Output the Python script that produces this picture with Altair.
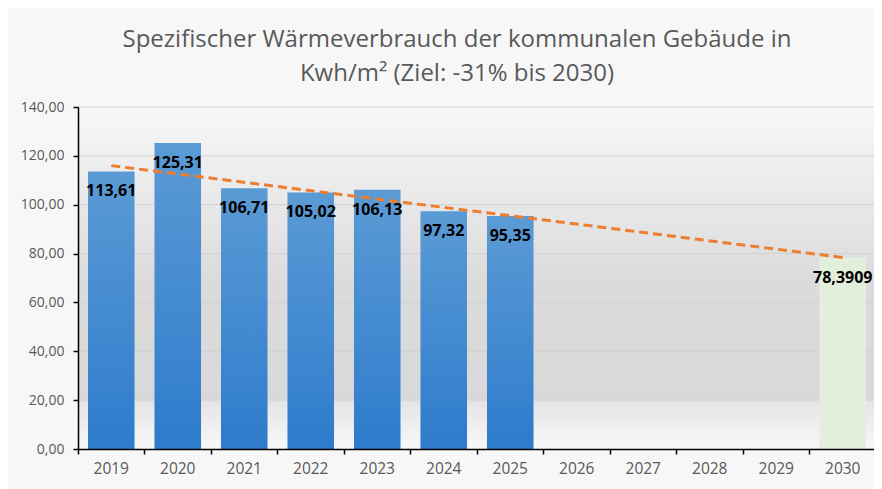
import altair as alt
import pandas as pd

# ---- data ----
years = [str(y) for y in range(2019, 2031)]
actual_years = ["2019", "2020", "2021", "2022", "2023", "2024", "2025"]
actual_values = [113.61, 125.31, 106.71, 105.02, 106.13, 97.32, 95.35]
actual_labels = ["113,61", "125,31", "106,71", "105,02", "106,13", "97,32", "95,35"]
target_years = ["2030"]
target_values = [78.3909]
target_labels = ["78,3909"]
trend_years = ["2019", "2030"]
trend_values = [116.0, 78.39]
y_ticks = [0, 20, 40, 60, 80, 100, 120, 140]
upper_band = [140, 20]
floor_band = [20, 0]

title_lines = ["Spezifischer Wärmeverbrauch der kommunalen Gebäude in",
               "Kwh/m² (Ziel: -31% bis 2030)"]

FONT = "Open Sans"

actual_df = pd.DataFrame({"year": actual_years, "value": actual_values, "label": actual_labels})
target_df = pd.DataFrame({"year": target_years, "value": target_values, "label": target_labels})
trend_df = pd.DataFrame({"year": trend_years, "value": trend_values})
grid_df = pd.DataFrame({"value": y_ticks[1:]})
upper_df = pd.DataFrame({"value": [upper_band[0]], "bottom": [upper_band[1]]})
floor_df = pd.DataFrame({"value": [floor_band[0]], "bottom": [floor_band[1]]})

x_scale = alt.Scale(domain=years, paddingInner=0, paddingOuter=0)
y_scale = alt.Scale(domain=[0, 140], nice=False)

x_axis = alt.Axis(labelAngle=0, bandPosition=0, tickSize=5, domainWidth=1.5, tickWidth=1.5,
                  labelPadding=7, zindex=1, grid=False, labelFontSize=15.5)
y_axis = alt.Axis(values=y_ticks, grid=False, tickSize=5, domainWidth=1.5, tickWidth=1.5,
                  labelPadding=9, zindex=1, labelFontSize=14,
                  labelExpr="replace(format(datum.value, '.2f'), '.', ',')")


def X():
    return alt.X("year:N", scale=x_scale, sort=years, title=None, axis=x_axis)


def Y():
    return alt.Y("value:Q", scale=y_scale, title=None, axis=y_axis)


upper_bg = alt.Chart(upper_df).mark_rect(
    color=alt.Gradient(gradient="linear", x1=0, x2=0, y1=0, y2=1,
                       stops=[alt.GradientStop(offset=0, color="#f7f7f7"),
                              alt.GradientStop(offset=0.35, color="#e7e7e7"),
                              alt.GradientStop(offset=0.6, color="#dbdbdb"),
                              alt.GradientStop(offset=1, color="#d9d9d9")])
).encode(y=Y(), y2="bottom:Q")

floor_bg = alt.Chart(floor_df).mark_rect(
    color=alt.Gradient(gradient="linear", x1=0, x2=0, y1=0, y2=1,
                       stops=[alt.GradientStop(offset=0, color="#e4e4e4"),
                              alt.GradientStop(offset=1, color="#f8f8f8")])
).encode(y=Y(), y2="bottom:Q")

grid = alt.Chart(grid_df).mark_rule(color="#d0d0d0", strokeWidth=1).encode(y=Y())

bars = alt.Chart(actual_df).mark_bar(
    width=alt.RelativeBandSize(0.7),
    color=alt.Gradient(gradient="linear", x1=0, x2=0, y1=0, y2=1,
                       stops=[alt.GradientStop(offset=0, color="#5b9bd5"),
                              alt.GradientStop(offset=1, color="#2e7bcc")])
).encode(x=X(), y=Y())

target = alt.Chart(target_df).mark_bar(
    width=alt.RelativeBandSize(0.7), color="#e2efda"
).encode(x=X(), y=Y())

trend = alt.Chart(trend_df).mark_line(
    color="#ed7d31", strokeDash=[9, 5], strokeWidth=3
).encode(x=X(), y=Y())

labels_actual = alt.Chart(actual_df).mark_text(
    dy=20, font=FONT, fontSize=16, fontWeight="bold", color="#000000"
).encode(x=X(), y=Y(), text="label:N")

labels_target = alt.Chart(target_df).mark_text(
    dy=20, font=FONT, fontSize=16, fontWeight="bold", color="#000000"
).encode(x=X(), y=Y(), text="label:N")

chart = alt.layer(
    upper_bg, floor_bg, grid, bars, target, trend, labels_actual, labels_target
).properties(
    width=798,
    height=342,
    title=alt.TitleParams(text=title_lines, font=FONT, fontSize=24, fontWeight="normal",
                          color="#595959", lineHeight=34, anchor="middle", dx=-20, offset=14),
    autosize=alt.AutoSizeParams(type="none"),
    padding={"left": 70, "top": 99, "right": -2, "bottom": 40},
    background="#f7f7f7",
).configure_axis(
    labelFont=FONT, labelColor="#595959",
    domainColor="#000000", tickColor="#000000",
).configure_view(stroke=None)

chart.save("out.html", embed_options={"renderer": "svg", "actions": False})
